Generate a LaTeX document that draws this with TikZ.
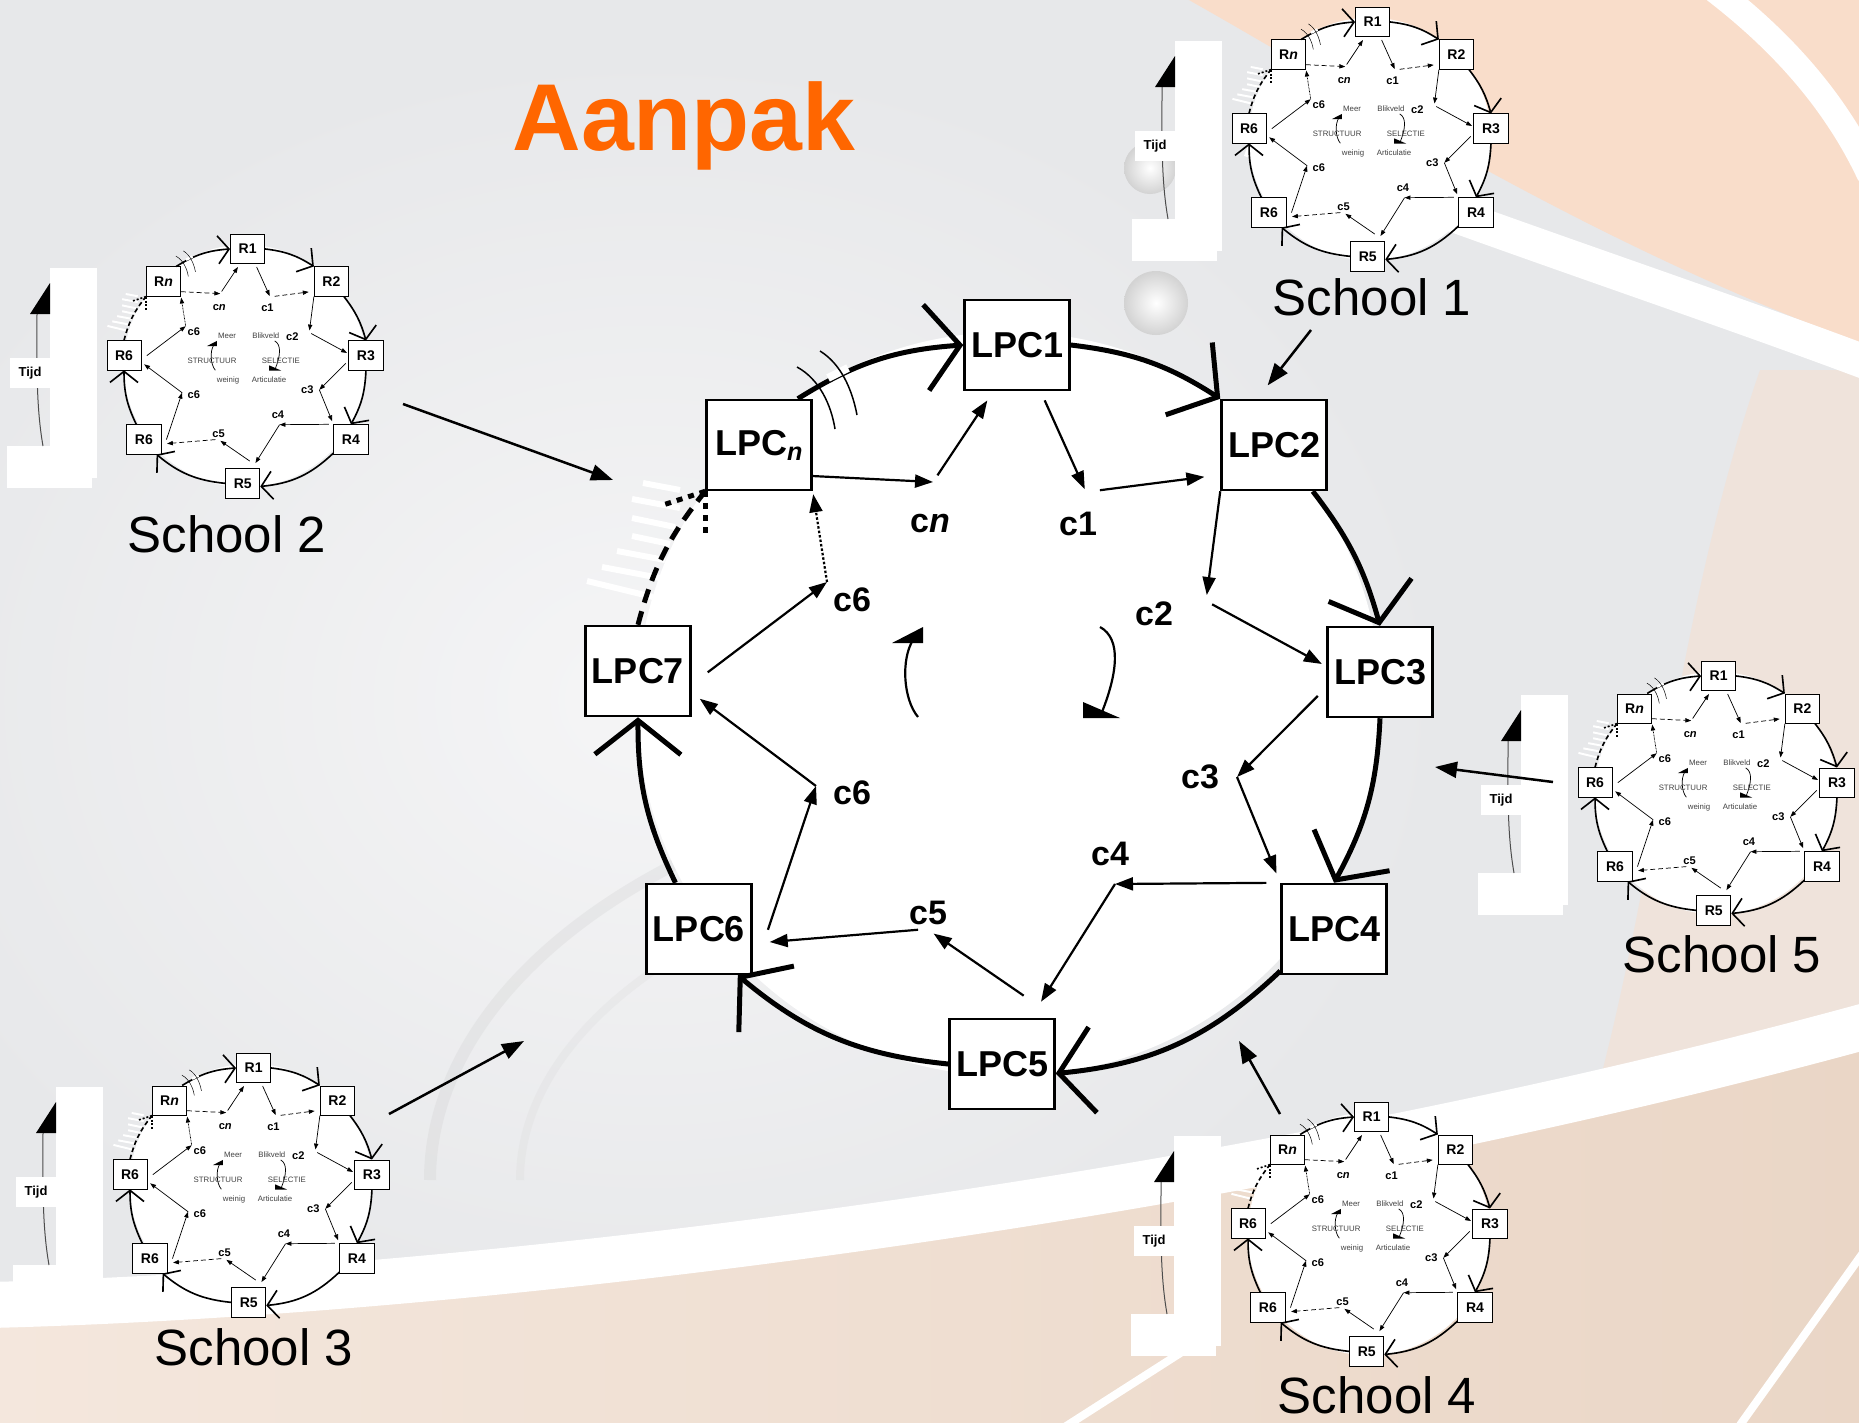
\documentclass[tikz,border=0pt]{standalone}
\usepackage{fontspec}
\setmainfont{Liberation Sans}
\usetikzlibrary{arrows.meta}

\definecolor{aanpak}{HTML}{FF6600}
\definecolor{bggrey}{HTML}{E7E8EA}
\definecolor{bglight}{HTML}{F5F5F6}
\definecolor{peach}{HTML}{F9DDCA}
\definecolor{beige}{HTML}{F4E7DD}
\definecolor{tan}{HTML}{EAD6C6}

\tikzset{
  lpcbox/.style={draw, line width=2.5pt, fill=white, minimum width=105pt, minimum height=90pt, inner sep=0pt, font=\bfseries\fontsize{36}{36}\selectfont},
  clabel/.style={inner sep=0pt, font=\bfseries\fontsize{34}{34}\selectfont},
  ringarc/.style={line width=5pt, -{Straight Barb[length=34pt,width=86pt]}},
  ringdash/.style={line width=5pt, dash pattern=on 14pt off 9pt},
  ringdot/.style={line width=5pt, dash pattern=on 6pt off 6pt},
  carrow/.style={line width=2.2pt, -{Triangle[length=18pt,width=13pt]}},
  cdot/.style={dash pattern=on 2.5pt off 2pt},
  mdash/.style={},
  stripe/.style={white, line width=6pt},
  innertext/.style={inner sep=0pt, text=black!75, font=\fontsize{24}{24}\selectfont},
  schoollabel/.style={inner sep=0pt, font=\fontsize{51}{51}\selectfont},
  feed/.style={line width=2.5pt, -{Triangle[length=22pt,width=16pt]}},
  pearl/.style={inner color=white, outer color=gray!35},
  pics/tijd/.style={code={
    \fill[white] (-195,-98) rectangle (-148,112);
    \fill[white] (-238,80) rectangle (-153,122);
    \draw[black!70, line width=1pt] (-202,80) .. controls (-209,40) and (-208,0) .. (-208,-52);
    \fill (-215,-52) -- (-195,-83) -- (-195,-52) -- cycle;
    \node[fill=white, minimum width=40pt, minimum height=30pt, inner sep=0pt,
      font=\bfseries\fontsize{13}{13}\selectfont] (-lab) at (-215,7) {Tijd};
  }},
  pics/lpcring/.style n args={3}{code={
    \fill[white] (0,0) circle (372);
    % white hatch beside the open part of the ring
    \foreach \xa/\ya/\xb/\yb in {-366/-221/-329/-214, -377/-205/-329/-196,
        -377/-186/-334/-177, -377/-168/-339/-160, -392/-153/-344/-144,
        -407/-137/-349/-126, -422/-123/-356/-107}
      \draw[stripe] (\xa,\ya) -- (\xb,\yb);
    \node[lpcbox] (-b1) at (8,-359) {#11};
    \node[lpcbox] (-b2) at (265,-259) {#12};
    \node[lpcbox] (-b3) at (371,-32) {#13};
    \node[lpcbox] (-b4) at (325,225) {#14};
    \node[lpcbox] (-b5) at (-7,360) {#15};
    \node[lpcbox] (-b6) at (-310,225) {#16};
    \node[lpcbox] (-b7) at (-371,-33) {#2};
    \node[lpcbox] (-bn) at (-250,-259) {#3};
    % the ring
    \draw[ringarc] (-bn.50) to[bend left=14] (-b1.west);
    \draw[ringarc] (-b1.east) to[bend left=13] (-b2.north west);
    \draw[ringarc] (-b2.-50) to[bend left=11] (-b3.north);
    \draw[ringarc] (-b3.south) to[bend left=13] (-b4.north);
    \draw[ringarc] (-b4.-142) to[bend left=19] (-b5.-10);
    \draw[ringarc] (-b5.west) to[bend left=17] (-b6.-50);
    \draw[ringarc] (-b6.117) to[bend left=13] (-b7.south);
    \draw[ringdash] (-b7.north) to[bend left=12] (-bn.south west);
    \draw[ringdot] (-bn.south west) -- ++(0,42);
    \draw[ringdot] (-bn.south west) -- ++(-40,13);
    % break in the ring
    \draw[white, line width=8pt] (-181,-326) -- (-161,-336);
    \draw[line width=1.5pt] (-212,-337) .. controls (-190,-325) and (-178,-300) .. (-174,-275);
    \draw[line width=1.5pt] (-189,-353) .. controls (-168,-340) and (-157,-315) .. (-152,-289);
    % turning arrows in the middle
    \draw[line width=2.2pt] (-91,13) .. controls (-106,-5) and (-108,-45) .. (-96,-64);
    \fill (-117,-61) -- (-86,-77) -- (-86,-61) -- cycle;
    \draw[line width=2.2pt] (91,-77) .. controls (113,-65) and (108,-30) .. (93,8);
    \fill (74,-2) -- (74,14) -- (111,14) -- cycle;
    % c points
    \coordinate (-cn) at (-76,-222);
    \coordinate (-c1) at (77,-212);
    \coordinate (-c2) at (197,-103);
    \coordinate (-c3) at (228,73);
    \coordinate (-c4) at (106,180);
    \coordinate (-c5) at (-82,225);
    \coordinate (-c6b) at (-193,82);
    \coordinate (-c6a) at (-182,-122);
    \node[clabel] (-lcn) at (-79,-180) {c\textit{n}};
    \node[clabel] (-lc1) at (69,-180) {c1};
    \node[clabel] (-lc2) at (145,-90) {c2};
    \node[clabel] (-lc3) at (191,73) {c3};
    \node[clabel] (-lc4) at (101,150) {c4};
    \node[clabel] (-lc5) at (-81,209) {c5};
    \node[clabel] (-lc6a) at (-157,-104) {c6};
    \node[clabel] (-lc6b) at (-157,89) {c6};
    \draw[carrow, mdash] (-bn.-30) -- (-cn);
    \draw[carrow, shorten <=8pt, shorten >=11pt] (-cn) -- (-b1.-117);
    \draw[carrow, shorten <=10pt, shorten >=3pt] (-b1.-63) -- (-c1);
    \draw[carrow, mdash, shorten <=14pt, shorten >=16pt] (-c1) -- (-b2.209);
    \draw[carrow, shorten >=6pt] (-b2.south west) -- (-c2);
    \draw[carrow, shorten <=7pt, shorten >=5pt] (-c2) -- (-b3.174);
    \draw[carrow, shorten <=12pt] (-b3.196) -- (-c3);
    \draw[carrow, shorten >=10pt] (-c3) -- (-b4.north west);
    \draw[carrow, shorten <=14pt] (-b4.north west) -- (-c4);
    \draw[carrow, shorten >=19pt] (-c4) -- (-b5.58);
    \draw[carrow, shorten <=39pt, shorten >=8pt] (-b5.north east) -- (-c5);
    \draw[carrow, mdash, shorten <=9pt, shorten >=17pt] (-c5) -- (-b6.-15);
    \draw[carrow, shorten <=48pt] (-b6.south east) -- (-c6b);
    \draw[carrow, shorten >=10pt] (-c6b) -- (-b7.-22);
    \draw[carrow, shorten <=20pt] (-b7.-14) -- (-c6a);
    \draw[carrow, cdot, shorten >=3pt] (-c6a) -- (-bn.south east);
  }}
}

\begin{document}
\begin{tikzpicture}[x=1pt, y=-1pt]
  \useasboundingbox (0,0) rectangle (1859,1422);

  % background
  \fill[bggrey] (0,0) rectangle (1859,1422);
  \shade[inner color=bglight, outer color=bggrey] (650,700) ellipse (800 and 650);
  \fill[peach] (1180,-5) .. controls (1350,90) and (1580,240) .. (1865,345) -- (1865,-5) -- cycle;
  \fill[peach, opacity=.45] (1760,370) .. controls (1680,600) and (1660,850) .. (1600,1080)
    -- (1865,1035) -- (1865,370) -- cycle;
  \draw[white, line width=34pt] (1250,140) .. controls (1500,235) and (1700,300) .. (1865,362);
  \draw[white, line width=26pt] (1715,-10) .. controls (1780,40) and (1835,100) .. (1870,175);
  \draw[gray!40, line width=12pt, opacity=.25] (430,1180) arc[start angle=180, end angle=250, x radius=720, y radius=420];
  \draw[gray!30, line width=8pt, opacity=.25] (520,1180) arc[start angle=180, end angle=245, x radius=630, y radius=340];
  \shade[left color=beige, right color=tan] (-5,1300) .. controls (500,1290) and (1250,1195) .. (1865,1030)
    -- (1865,1430) -- (-5,1430) -- cycle;
  \draw[white, line width=46pt] (-10,1305) .. controls (500,1292) and (1250,1195) .. (1870,1025);
  \draw[white, line width=8pt] (1060,1430) -- (1185,1350);
  \draw[white, line width=8pt] (1740,1425) -- (1865,1250);
  \shade[pearl] (1156,303) circle (32);
  \shade[pearl] (1150,168) circle (26);

  % the main cycle
  \pic (lpc) at (1009,704) {lpcring={LPC}{LPC7}{LPC\textsubscript{\textit{n}}}};

  \node[text=aanpak, anchor=base, font=\bfseries\fontsize{95}{95}\selectfont] (title) at (684,150) {Aanpak};

  % the schools
  \foreach \n/\sx/\sy/\lx/\ly in {1/1370/139/1372/297, 2/245/366/227/534, 3/251/1185/254/1347,
      4/1369/1234/1377/1395, 5/1716/793/1722/954} {
    \pic (t\n) at (\sx,\sy) {tijd};
    \begin{scope}[transform canvas={shift={(\sx,\sy)}, scale=0.326},
        mdash/.style={dash pattern=on 15pt off 9pt},
        lpcbox/.append style={font=\bfseries\fontsize{43}{43}\selectfont}]
      \pic (s\n) at (0,0) {lpcring={R}{R6}{R\textit{n}}};
      \foreach \px/\py/\t [count=\k] in {-55/-92/Meer, 64/-92/Blikveld, -101/-15/STRUCTUUR,
          110/-15/SELECTIE, -52/43/weinig, 74/43/Articulatie}
        \node[innertext] (s\n-t\k) at (\px,\py) {\t};
    \end{scope}
    \node[schoollabel] (sl\n) at (\lx,\ly) {School \n};
  }

  % schools feed the cycle
  \coordinate (from1) at (1311,330);
  \coordinate (from2) at (403,404);  \coordinate (to2) at (613,480);
  \coordinate (from3) at (389,1114); \coordinate (to3) at (524,1041);
  \coordinate (from4) at (1280,1114); \coordinate (to4) at (1239,1041);
  \coordinate (from5) at (1553,782); \coordinate (to5) at (1435,767);
  \draw[feed, shorten >=17pt] (from1) -- (lpc-b2.110);
  \draw[feed] (from2) -- (to2);
  \draw[feed] (from3) -- (to3);
  \draw[feed] (from4) -- (to4);
  \draw[feed] (from5) -- (to5);
\end{tikzpicture}
\end{document}
